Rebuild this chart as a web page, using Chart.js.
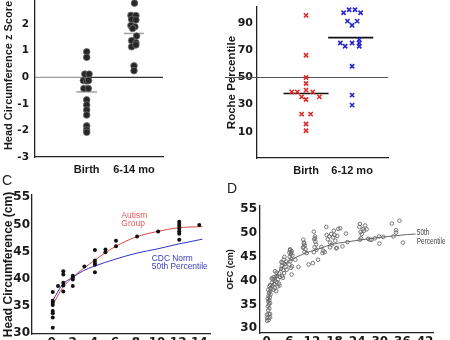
<!DOCTYPE html>
<html>
<head>
<meta charset="utf-8">
<script src="https://cdn.jsdelivr.net/npm/chart.js@4.4.1/dist/chart.umd.min.js"></script>
<style>
  html, body { margin: 0; padding: 0; background: #fff; }
  body { position: relative; width: 450px; height: 340px; overflow: hidden; }
  .panel { position: absolute; }
  .tag { position: absolute; font: 14px "Liberation Sans", Arial, sans-serif; line-height: 14px; color: #222; }
</style>
</head>
<body>
<div class="panel" style="left:0;top:-6px"><canvas id="chartA" width="225" height="186"></canvas></div>
<div class="panel" style="left:225px;top:0"><canvas id="chartB" width="225" height="180"></canvas></div>
<div class="panel" style="left:0;top:170px"><canvas id="chartC" width="225" height="190"></canvas></div>
<div class="panel" style="left:225px;top:170px"><canvas id="chartD" width="225" height="190"></canvas></div>
<div class="tag" style="left:2px;top:173px">C</div>
<div class="tag" style="left:227px;top:181px">D</div>
<script>
// --- A: head circumference z scores
const zCats = ['Birth', '6-14 mo'];
const zTicks = [-3, -2, -1, 0, 1, 2, 3];
const zBirth = [0.96, 0.75, 0.12, 0.12, -0.12, -0.14, -0.12, -0.42, -0.42, -0.85, -1.04, -1.23, -1.42, -1.83, -1.98, -2.07];
const zBirthJit = [0, 0, -0.04, 0.05, -0.07, 0, 0.04, -0.06, 0.035, 0, 0, 0, 0, 0, 0, 0];
const zInfant = [2.79, 2.33, 2.32, 2.18, 2.16, 1.95, 1.9, 1.84, 1.55, 1.38, 1.3, 1.15, 1.22, 0.43, 0.25];
const zInfantJit = [0.01, -0.065, 0.04, -0.05, 0.04, -0.065, 0.02, -0.03, 0.055, -0.05, 0.04, -0.05, 0.04, 0, 0];
const zMeans = [-0.55, 1.65];

// --- B: Roche percentiles
const rocheCats = ['Birth', '6-12 mo'];
const rocheTicks = [10, 30, 50, 70, 90];
const rocheBirth = [95.8, 66.4, 50.0, 45.6, 39.4, 39.4, 40.7, 39.4, 35.7, 33.8, 35.7, 23.0, 23.0, 15.7, 10.7];
const rocheBirthJit = [0, 0, 0, 0, -0.31, -0.19, 0, 0.145, -0.095, 0, 0.29, -0.095, 0.1, 0, 0];
const rocheInfant = [97.8, 100.0, 100.0, 97.8, 91.6, 88.5, 91.6, 75.4, 73.0, 75.4, 77.9, 75.4, 73.0, 58.3, 37.0, 29.6];
const rocheInfantJit = [-0.185, -0.064, 0.064, 0.185, -0.1, 0, 0.11, -0.255, -0.15, 0, 0.155, 0.155, 0.155, 0, 0, 0];
const rocheMeans = [38.2, 79.4];
const rocheNorm = 50;

// --- C: head circumference (cm) by age (months)
const hcTicksX = [0, 2, 4, 6, 8, 10, 12, 14];
const hcTicksY = [30, 35, 40, 45, 50, 55];
const hcAge = [0.1, 0.1, 0.1, 0.1, 0.1, 0.1, 0.1, 0.1, 0.6, 1.1, 1.1, 1.1, 1.1, 1.1, 2.0, 2.0, 2.0, 2.0, 3.1,
  4.1, 4.1, 4.1, 4.1, 4.1, 5.1, 5.1, 6.1, 6.1, 8.1, 10.1, 12.1, 12.1, 12.1, 12.1, 12.1, 12.1, 12.1, 14.0];
const hcCm = [37.6, 36.0, 35.6, 35.2, 34.1, 33.7, 32.9, 31.0, 38.7, 41.4, 40.8, 39.3, 38.8, 37.7, 40.6, 40.3, 39.9, 38.7, 42.3,
  45.3, 43.4, 42.9, 42.6, 41.2, 45.4, 44.9, 47.0, 46.0, 47.8, 48.7, 50.5, 50.1, 49.7, 49.2, 48.7, 48.3, 47.2, 49.9];
const autismFitAge = [0.1, 1, 2, 3, 4, 5, 6, 8, 10, 12, 14.3];
const autismFitCm = [35.2, 38.3, 40.3, 41.9, 43.3, 44.7, 45.9, 47.7, 48.7, 49.4, 49.6];
const cdcAge = [0.1, 1, 2, 3, 4, 6, 8, 10, 12, 14.3];
const cdcCm = [36.0, 38.9, 40.3, 41.5, 42.3, 43.6, 44.7, 45.5, 46.4, 47.3];

// --- D: OFC (cm) by age (months), [age, cm]
const ofcTicksX = [0, 6, 12, 18, 24, 30, 36, 42];
const ofcTicksY = [30, 35, 40, 45, 50, 55];
const ofcVisits = [
  [0.1, 31.6], [0.5, 31.7], [0.1, 32.2], [0.5, 32.2], [0.9, 32.3], [0.1, 32.9], [0.5, 33.0], [0.9, 33.0],
  [0.4, 33.8], [0.7, 34.2], [0.3, 34.6], [0.6, 35.0], [0.9, 35.3], [0.4, 35.6], [0.7, 35.9], [0.3, 36.2],
  [0.8, 36.5], [0.5, 36.8], [1.0, 37.1], [0.6, 37.4], [0.9, 37.8], [0.4, 38.1], [1.1, 38.4], [0.7, 38.8], [0.9, 39.1],
  [1.4, 39.6], [1.6, 40.3], [1.8, 40.7], [1.5, 38.9], [2.0, 39.3], [2.2, 40.0], [2.4, 40.9], [2.1, 38.5],
  [2.6, 39.7], [2.8, 41.0], [3.0, 40.3], [3.2, 39.4], [2.5, 37.8], [1.8, 38.1], [3.3, 41.5], [2.9, 38.8],
  [3.5, 40.8], [2.2, 42.0], [2.6, 41.7], [1.3, 40.5], [3.4, 39.0],
  [3.8, 42.5], [4.0, 43.1], [4.2, 43.8], [4.4, 42.2], [4.6, 41.6], [4.1, 41.0], [4.8, 43.5], [5.0, 42.9],
  [4.5, 44.4], [5.2, 44.0], [3.9, 43.9], [4.3, 40.6], [5.3, 42.3], [4.7, 45.0],
  [6.0, 45.9], [6.2, 46.4], [6.4, 45.6], [6.6, 46.2], [6.1, 45.0], [6.5, 44.6], [6.3, 44.1], [6.8, 45.3],
  [6.0, 43.4], [6.7, 43.0], [6.4, 42.7], [6.6, 41.3], [6.2, 46.6], [6.5, 45.9],
  [8.4, 42.9], [7.6, 44.4],
  [9.7, 48.6], [9.9, 48.0], [10.1, 47.4], [9.8, 47.1], [10.3, 46.6], [10.0, 46.0], [10.6, 45.8], [9.6, 46.9], [9.9, 47.8],
  [11.1, 43.4], [12.2, 43.7], [13.6, 44.4],
  [12.5, 50.3], [12.8, 49.3], [12.6, 48.7], [12.9, 48.2], [13.1, 47.6], [12.7, 47.0], [13.2, 46.5], [12.5, 46.0], [12.8, 48.9],
  [14.5, 47.1], [15.0, 46.3], [15.4, 46.0], [14.8, 45.8],
  [15.8, 51.3], [15.9, 49.6], [16.6, 49.3], [17.1, 49.8], [17.6, 49.1], [18.2, 48.4], [16.8, 48.0], [17.8, 50.5],
  [18.6, 46.9], [17.3, 47.6], [16.2, 48.7], [18.0, 49.6], [19.0, 50.9], [19.5, 51.0], [18.7, 49.4], [21.0, 49.9],
  [20.1, 47.2], [21.4, 48.1], [16.8, 47.0], [18.4, 46.8],
  [24.7, 51.9], [25.5, 50.8], [25.8, 50.5], [26.5, 50.8], [25.2, 49.8], [24.6, 51.3], [24.9, 50.2], [26.1, 51.6],
  [26.9, 48.8], [27.8, 48.6], [24.7, 48.6], [27.4, 48.6], [28.7, 48.9], [25.0, 48.9],
  [29.9, 47.8], [29.8, 49.3], [30.9, 49.2],
  [33.2, 52.0], [34.3, 50.6], [34.3, 50.1], [35.2, 52.6], [36.1, 48.0], [33.6, 49.3]
];
const pct50Age = [0.3, 1, 2, 3, 4.4, 6, 8, 11, 14.2, 17.2, 20.8, 25.2, 30, 33.6, 37.3, 39.5];
const pct50Cm = [35.5, 38.0, 40.0, 41.6, 43.2, 44.2, 45.0, 46.0, 46.8, 47.6, 48.1, 48.6, 49.1, 49.4, 49.7, 49.8];

const NUM = '"DejaVu Sans", sans-serif';
const SANS = '"Liberation Sans", Arial, sans-serif';
const INK = '#1a1a1a';

function bold(size, family) { return { family, size, weight: 'bold' }; }
function pairs(xs, ys) { return xs.map((x, i) => ({ x, y: ys[i] })); }

// pin a scale's thickness and drop the label overhang padding so the plot area stays put
function pinSize(key, size) {
  return s => {
    s[key] = size;
    s.paddingTop = s.paddingBottom = s.paddingLeft = s.paddingRight = 0;
  };
}

function catAxis(labels, min, max, height) {
  return {
    type: 'linear', min, max,
    afterBuildTicks: s => { s.ticks = labels.map((_, i) => ({ value: i + 1 })); },
    afterFit: pinSize('height', height),
    grid: { display: false, drawTicks: false },
    border: { color: '#222', width: 1.3 },
    ticks: { font: bold(11, SANS), color: INK, padding: 6, maxRotation: 0, autoSkip: false,
      callback: v => labels[v - 1] }
  };
}

function numAxis(min, max, list, size, pad, opts) {
  return Object.assign({
    type: 'linear', min, max,
    afterBuildTicks: s => { s.ticks = list.map(v => ({ value: v })); },
    grid: { display: false, drawTicks: false },
    border: { color: '#222', width: 1.3 },
    ticks: { font: bold(size, NUM), color: INK, padding: pad, maxRotation: 0, autoSkip: false }
  }, opts);
}

function jittered(vals, jit, cat, style) {
  return Object.assign({ data: vals.map((v, i) => ({ x: cat + jit[i], y: v })), showLine: false }, style);
}

function meanBar(cat, val, half, color, width) {
  return { data: [{ x: cat - half, y: val }, { x: cat + half, y: val }], showLine: true,
    borderColor: color, borderWidth: width, pointRadius: 0 };
}

// text placed at data coordinates; squeeze narrows the glyphs horizontally
function notes(list) {
  return { id: 'notes', afterDatasetsDraw(chart) {
    const { ctx, scales: { x, y } } = chart;
    list.forEach(n => {
      ctx.save();
      ctx.font = `${n.size}px ${SANS}`;
      ctx.fillStyle = n.color;
      ctx.textBaseline = 'middle';
      ctx.translate(x.getPixelForValue(n.x), y.getPixelForValue(n.y));
      ctx.scale(n.squeeze || 1, 1);
      ctx.fillText(n.text, 0, 0);
      ctx.restore();
    });
  }};
}

function baseOptions(padding, scales) {
  return {
    responsive: false, animation: false, events: [],
    layout: { autoPadding: false, padding },
    plugins: { legend: { display: false }, tooltip: { enabled: false } },
    scales
  };
}

// A
const zeroRule = { id: 'zeroRule', beforeDatasetsDraw(chart) {
  const { ctx, chartArea, scales: { x, y } } = chart;
  const py = y.getPixelForValue(0);
  const split = x.getPixelForValue(1);
  ctx.save();
  ctx.lineWidth = 1.2;
  ctx.strokeStyle = '#9a9a9a';
  ctx.beginPath(); ctx.moveTo(chartArea.left, py); ctx.lineTo(split, py); ctx.stroke();
  ctx.strokeStyle = '#333';
  ctx.beginPath(); ctx.moveTo(split, py); ctx.lineTo(chartArea.right, py); ctx.stroke();
  ctx.restore();
}};

const dotStyle = { pointRadius: 3.3, pointBackgroundColor: '#262626', pointBorderColor: '#6d6d6d', pointBorderWidth: 0.8 };

new Chart(document.getElementById('chartA'), {
  type: 'scatter',
  data: { datasets: [
    jittered(zBirth, zBirthJit, 1, dotStyle),
    jittered(zInfant, zInfantJit, 2, dotStyle),
    meanBar(1, zMeans[0], 0.22, '#a0a0a0', 1.5),
    meanBar(2, zMeans[1], 0.21, '#a0a0a0', 1.5)
  ]},
  options: baseOptions({ top: 0, right: 62, bottom: 0, left: 0 }, {
    x: catAxis(zCats, -0.093, 2.613, 23),
    y: numAxis(-3, 3.135, zTicks, 10.5, 6, {
      afterFit: pinSize('width', 35),
      title: { display: true, text: 'Head Circumference z Score', font: bold(11, SANS), color: INK, padding: { top: 2, bottom: 0 } }
    })
  }),
  plugins: [zeroRule]
});

// B
const normRule = { id: 'normRule', beforeDatasetsDraw(chart) {
  const { ctx, chartArea, scales: { y } } = chart;
  const py = y.getPixelForValue(rocheNorm);
  ctx.save();
  ctx.lineWidth = 1.2;
  ctx.strokeStyle = '#555';
  ctx.beginPath(); ctx.moveTo(0, py); ctx.lineTo(chartArea.right, py); ctx.stroke();
  ctx.restore();
}};

const crossStyle = color => ({ pointStyle: 'crossRot', pointRadius: 3, pointBorderWidth: 1.6, pointBorderColor: color });

new Chart(document.getElementById('chartB'), {
  type: 'scatter',
  data: { datasets: [
    jittered(rocheBirth, rocheBirthJit, 1, crossStyle('#e02a2a')),
    jittered(rocheInfant, rocheInfantJit, 2, crossStyle('#2626cc')),
    meanBar(1, rocheMeans[0], 0.49, '#111', 1.6),
    meanBar(1.97, rocheMeans[1], 0.49, '#111', 1.6)
  ]},
  options: baseOptions({ top: 7, right: 62, bottom: 0, left: 0 }, {
    x: catAxis(rocheCats, -0.065, 2.78, 22),
    y: numAxis(-9.4, 102, rocheTicks, 11, 4, {
      afterFit: pinSize('width', 32),
      title: { display: true, text: 'Roche Percentile', font: bold(11.5, SANS), color: INK, padding: { top: 0, bottom: 0 } }
    })
  }),
  plugins: [normRule]
});

// C
new Chart(document.getElementById('chartC'), {
  type: 'scatter',
  data: { datasets: [
    { data: pairs(hcAge, hcCm), pointRadius: 2, pointBackgroundColor: '#111', pointBorderWidth: 0 },
    { data: pairs(autismFitAge, autismFitCm), showLine: true, borderColor: '#d84646', borderWidth: 1,
      pointRadius: 0, cubicInterpolationMode: 'monotone' },
    { data: pairs(cdcAge, cdcCm), showLine: true, borderColor: '#3232c4', borderWidth: 1,
      pointRadius: 0, cubicInterpolationMode: 'monotone' }
  ]},
  options: baseOptions({ top: 25, right: 15, bottom: 0, left: 0 }, {
    x: numAxis(-1.87, 15.02, hcTicksX, 12, 2, { afterFit: pinSize('height', 26) }),
    y: numAxis(29.87, 55.42, hcTicksY, 12, 2, {
      afterFit: pinSize('width', 32),
      title: { display: true, text: 'Head Circumference (cm)', font: bold(12, SANS), color: INK, padding: { top: 1, bottom: 0 } }
    })
  }),
  plugins: [notes([
    { text: 'Autism', x: 6.6, y: 51.7, size: 8.5, color: '#e05a5a' },
    { text: 'Group', x: 6.6, y: 50.1, size: 8.5, color: '#e05a5a' },
    { text: 'CDC Norm', x: 9.5, y: 43.8, size: 8.4, color: '#3a3ac8' },
    { text: '50th Percentile', x: 9.5, y: 42.2, size: 8.4, color: '#3a3ac8' }
  ])]
});

// D
new Chart(document.getElementById('chartD'), {
  type: 'scatter',
  data: { datasets: [
    { data: pairs(pct50Age, pct50Cm), showLine: true, borderColor: '#666', borderWidth: 1,
      pointRadius: 0, cubicInterpolationMode: 'monotone' },
    { data: ofcVisits.map(([a, c]) => ({ x: a, y: c })), pointRadius: 1.8, pointBackgroundColor: 'rgba(255,255,255,0)',
      pointBorderColor: '#6a6a6a', pointBorderWidth: 0.9 }
  ]},
  options: baseOptions({ top: 36, right: 17, bottom: 0, left: 0 }, {
    x: numAxis(-1.78, 44.1, ofcTicksX, 12, 2, { afterFit: pinSize('height', 27) }),
    y: numAxis(29.01, 55.69, ofcTicksY, 12, 3, {
      afterFit: pinSize('width', 35),
      title: { display: true, text: 'OFC (cm)', font: bold(9, SANS), color: INK, padding: { top: 0, bottom: 0 } }
    })
  }),
  plugins: [notes([
    { text: '50th', x: 39.8, y: 50.1, size: 9, color: '#444', squeeze: 0.72 },
    { text: 'Percentile', x: 39.8, y: 48.15, size: 9, color: '#444', squeeze: 0.72 }
  ])]
});
</script>
</body>
</html>
